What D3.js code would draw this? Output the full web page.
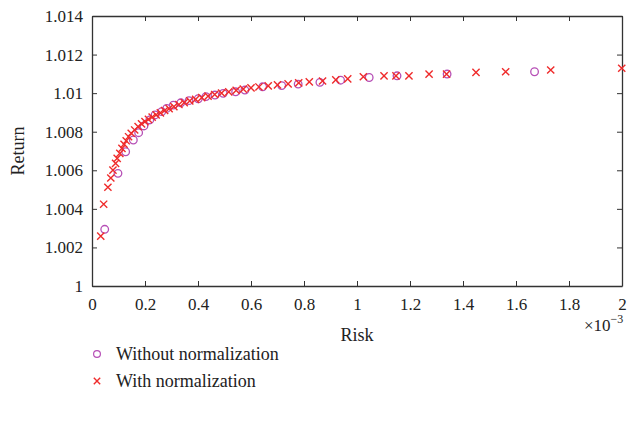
<!DOCTYPE html>
<html><head><meta charset="utf-8">
<script src="https://cdn.jsdelivr.net/npm/d3@7"></script>
<style>body{margin:0;background:#fff}svg{display:block}</style>
</head><body>
<svg id="c" width="637" height="423"></svg>
<script>
// Risk values in units of 1e-3
const riskWithout = [0.048,0.098,0.127,0.156,0.176,0.196,0.218,0.238,0.263,0.282,0.307,0.335,0.366,0.401,0.430,0.464,0.495,0.542,0.577,0.644,0.716,0.778,0.860,0.938,1.046,1.151,1.340,1.670];
const returnWithout = [1.00294,1.00584,1.00696,1.00757,1.00795,1.00830,1.00861,1.00887,1.00904,1.00921,1.00938,1.00950,1.00961,1.00971,1.00982,1.00990,1.00999,1.01007,1.01016,1.01033,1.01039,1.01047,1.01056,1.01067,1.01081,1.01090,1.01099,1.01111];
const riskWith = [0.033,0.044,0.060,0.071,0.079,0.089,0.095,0.105,0.113,0.121,0.129,0.138,0.148,0.161,0.174,0.187,0.200,0.213,0.227,0.242,0.258,0.274,0.291,0.309,0.328,0.348,0.369,0.391,0.414,0.438,0.463,0.489,0.516,0.544,0.571,0.600,0.630,0.665,0.700,0.740,0.780,0.820,0.870,0.920,0.965,1.024,1.102,1.147,1.196,1.272,1.338,1.449,1.561,1.731,1.999];
const returnWith = [1.00259,1.00424,1.00512,1.00560,1.00601,1.00636,1.00662,1.00688,1.00714,1.00735,1.00753,1.00774,1.00792,1.00809,1.00826,1.00841,1.00852,1.00864,1.00876,1.00887,1.00898,1.00910,1.00920,1.00930,1.00941,1.00951,1.00960,1.00968,1.00977,1.00985,1.00993,1.01000,1.01007,1.01014,1.01021,1.01027,1.01032,1.01038,1.01043,1.01048,1.01053,1.01058,1.01063,1.01069,1.01074,1.01085,1.01090,1.01090,1.01090,1.01099,1.01099,1.01108,1.01111,1.01120,1.01129];
const xTicks = [0,0.2,0.4,0.6,0.8,1,1.2,1.4,1.6,1.8,2];
const yTicks = [1,1.002,1.004,1.006,1.008,1.01,1.012,1.014];
const legendLabels = ["Without normalization","With normalization"];

const FONT = '"Liberation Serif","Times New Roman",Tinos,"DejaVu Serif","Noto Serif",Times,serif';
const svg = d3.select("#c").attr("font-family",FONT);
const L=92,R=622,T=16,B=286;
const x = d3.scaleLinear().domain([0,2]).range([L,R]);
const y = d3.scaleLinear().domain([1,1.014]).range([B,T]);
const axisColor="#333";
const fmtY = d => d===1?"1":d3.format(".3~f")(d);
const fmtX = d => d3.format("~g")(d);

const gx = svg.append("g").attr("transform",`translate(0,${B})`)
  .call(d3.axisBottom(x).tickValues(xTicks).tickFormat(fmtX).tickSizeInner(-5).tickSizeOuter(0).tickPadding(12));
const gy = svg.append("g").attr("transform",`translate(${L},0)`)
  .call(d3.axisLeft(y).tickValues(yTicks).tickFormat(fmtY).tickSizeInner(-5).tickSizeOuter(0).tickPadding(9));
const gt = svg.append("g").attr("transform",`translate(0,${T})`)
  .call(d3.axisTop(x).tickValues(xTicks).tickFormat("").tickSizeInner(-5).tickSizeOuter(0));
const gr = svg.append("g").attr("transform",`translate(${R},0)`)
  .call(d3.axisRight(y).tickValues(yTicks).tickFormat("").tickSizeInner(-5).tickSizeOuter(0));
[gx,gy,gt,gr].forEach(g=>{
  g.attr("font-family",FONT).attr("font-size",17);
  g.selectAll("path").attr("stroke",axisColor).attr("stroke-width",1.3);
  g.selectAll("line").attr("stroke",axisColor).attr("stroke-width",1);
  g.selectAll("text").attr("fill","#222");
});

svg.append("text").attr("x",(L+R)/2).attr("y",341).attr("text-anchor","middle").attr("font-size",18).attr("fill","#222").text("Risk");
svg.append("text").attr("transform",`translate(24,${(T+B)/2}) rotate(-90)`).attr("text-anchor","middle").attr("font-size",18).attr("fill","#222").text("Return");
const ex = svg.append("text").attr("x",584).attr("y",331).attr("font-size",17).attr("fill","#222");
ex.append("tspan").text("×10");
ex.append("tspan").attr("dy",-8).attr("font-size",12).text("−3");

const circColor="#b64fb6", crossColor="#ef2b2b";
const dWithout = riskWithout.map((r,i)=>({r,v:returnWithout[i]}));
const dWith = riskWith.map((r,i)=>({r,v:returnWith[i]}));

function cross(g, cx, cy, s){
  g.append("path").attr("d",`M${cx-s},${cy-s}L${cx+s},${cy+s}M${cx-s},${cy+s}L${cx+s},${cy-s}`)
   .attr("stroke",crossColor).attr("stroke-width",1.4).attr("fill","none");
}
const pts = svg.append("g");
pts.selectAll("circle").data(dWithout).join("circle")
  .attr("cx",d=>x(d.r)).attr("cy",d=>y(d.v)).attr("r",3.8)
  .attr("fill","none").attr("stroke",circColor).attr("stroke-width",1.3);
const cg = pts.append("g");
dWith.forEach(d=>cross(cg,x(d.r),y(d.v),3.6));

const lg = svg.append("g");
lg.append("circle").attr("cx",97).attr("cy",354).attr("r",3.4).attr("fill","none").attr("stroke",circColor).attr("stroke-width",1.2);
cross(lg,97,381,3.2);
lg.append("text").attr("x",116).attr("y",360).attr("font-size",18).attr("fill","#222").text(legendLabels[0]);
lg.append("text").attr("x",116).attr("y",387).attr("font-size",18).attr("fill","#222").text(legendLabels[1]);
</script>
</body></html>
